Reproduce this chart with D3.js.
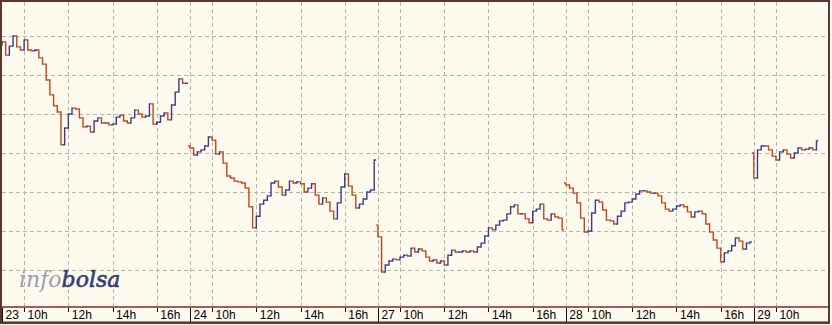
<!DOCTYPE html>
<html>
<head>
<meta charset="utf-8">
<script src="https://cdn.jsdelivr.net/npm/d3@7"></script>
<style>
  body { margin: 0; background: #ffffff; }
  svg { display: block; }
</style>
</head>
<body>
<svg id="chart"></svg>
<script>
// session days shown on the axis
const days = ['23', '24', '27', '28', '29'];
const hourTicks = [10, 12, 14, 16];
const gridValues = [10.0, 10.1, 10.2, 10.3, 10.4, 10.5, 10.6];

// first open of every session
const dayOpen = [10.577, 10.318, 10.115, 10.223, 10.300];

// 10 minute closes, from 9:00
const close23 = [10.585, 10.551, 10.574, 10.600, 10.572, 10.564, 10.590, 10.564, 10.562, 10.564, 10.544, 10.528, 10.487, 10.449, 10.421, 10.405, 10.321, 10.364, 10.400, 10.415, 10.413, 10.390, 10.367, 10.369, 10.354, 10.382, 10.390, 10.377, 10.377, 10.372, 10.374, 10.392, 10.397, 10.382, 10.377, 10.390, 10.410, 10.400, 10.392, 10.395, 10.426, 10.374, 10.379, 10.395, 10.403, 10.385, 10.423, 10.456, 10.490, 10.479, 10.479];
const close24 = [10.313, 10.295, 10.303, 10.308, 10.318, 10.341, 10.333, 10.297, 10.303, 10.274, 10.241, 10.236, 10.228, 10.226, 10.223, 10.210, 10.162, 10.108, 10.138, 10.169, 10.179, 10.190, 10.223, 10.228, 10.213, 10.192, 10.205, 10.228, 10.223, 10.226, 10.221, 10.200, 10.210, 10.221, 10.192, 10.169, 10.185, 10.174, 10.151, 10.131, 10.172, 10.213, 10.246, 10.215, 10.192, 10.159, 10.169, 10.182, 10.200, 10.205, 10.282];
const close27 = [10.085, 9.995, 10.013, 10.023, 10.028, 10.026, 10.033, 10.038, 10.036, 10.056, 10.046, 10.054, 10.049, 10.033, 10.023, 10.026, 10.018, 10.023, 10.013, 10.038, 10.051, 10.046, 10.046, 10.049, 10.046, 10.049, 10.046, 10.059, 10.069, 10.087, 10.108, 10.103, 10.115, 10.126, 10.128, 10.144, 10.162, 10.167, 10.144, 10.144, 10.131, 10.121, 10.151, 10.156, 10.169, 10.131, 10.128, 10.144, 10.136, 10.133, 10.103];
const close28 = [10.218, 10.210, 10.197, 10.172, 10.133, 10.097, 10.100, 10.146, 10.179, 10.174, 10.154, 10.128, 10.126, 10.118, 10.138, 10.151, 10.172, 10.174, 10.182, 10.195, 10.203, 10.203, 10.200, 10.197, 10.197, 10.190, 10.172, 10.156, 10.151, 10.156, 10.164, 10.167, 10.162, 10.149, 10.136, 10.149, 10.151, 10.144, 10.118, 10.097, 10.077, 10.056, 10.021, 10.044, 10.049, 10.062, 10.082, 10.074, 10.054, 10.069, 10.072];
const close29 = [10.236, 10.308, 10.318, 10.318, 10.308, 10.292, 10.282, 10.303, 10.308, 10.297, 10.287, 10.300, 10.313, 10.308, 10.310, 10.313, 10.308, 10.331];

const closes = [close23, close24, close27, close28, close29];

class IntradayChart {

    constructor(_config) {
        this.config = {
            parentElement: _config.parentElement,
            width: 832,
            height: 325,
            plot: { left: 2, right: 829, top: 2, bottom: 306 },
            sessionHours: 8.5,
            barHours: 1 / 6,
            upColor: '#3b3b88',
            downColor: '#c0461e'
        };
        this.initVis();
    }

    initVis() {
        let vis = this;
        const c = vis.config;

        vis.svg = d3.select(c.parentElement)
            .attr('width', c.width)
            .attr('height', c.height);

        // hours since first open, sessions glued together
        vis.xScale = d3.scaleLinear()
            .domain([0, 37.4])
            .range([c.plot.left, c.plot.right]);

        vis.yScale = d3.scaleLinear()
            .domain([10.0, 10.6])
            .range([270, 36]);

        vis.svg.append('rect')
            .attr('width', c.width)
            .attr('height', c.height)
            .attr('fill', '#fffaee');

        // build bars: open = previous close inside a session
        vis.bars = [];
        closes.forEach((arr, d) => {
            arr.forEach((cl, i) => {
                const op = i === 0 ? dayOpen[d] : arr[i - 1];
                vis.bars.push({ t: d * c.sessionHours + i * c.barHours, open: op, close: cl });
            });
        });

        vis.hourTickValues = [];
        days.forEach((day, d) => {
            hourTicks.forEach(h => {
                const t = d * c.sessionHours + (h - 9);
                if (vis.xScale(t) + 24 <= c.plot.right) vis.hourTickValues.push(t);
            });
        });
        vis.dayTickValues = days.map((day, d) => d * c.sessionHours);

        vis.renderVis();
    }

    renderVis() {
        let vis = this;
        const c = vis.config;
        const x = vis.xScale, y = vis.yScale;

        // grid
        const grid = vis.svg.append('g')
            .attr('stroke', '#b9b4aa')
            .attr('stroke-dasharray', '4,3')
            .attr('shape-rendering', 'crispEdges');

        grid.selectAll('.hgrid')
            .data(gridValues)
            .join('line')
            .attr('x1', c.plot.left)
            .attr('x2', c.plot.right)
            .attr('y1', d => Math.round(y(d)) + 0.5)
            .attr('y2', d => Math.round(y(d)) + 0.5);

        grid.selectAll('.vgrid')
            .data(vis.hourTickValues.concat(vis.dayTickValues.slice(1)))
            .join('line')
            .attr('x1', d => Math.round(x(d)) + 0.5)
            .attr('x2', d => Math.round(x(d)) + 0.5)
            .attr('y1', c.plot.top)
            .attr('y2', c.plot.bottom);

        // logo
        const logo = vis.svg.append('text')
            .attr('x', 19)
            .attr('y', 287)
            .attr('font-family', '"DejaVu Serif", serif')
            .attr('font-style', 'italic')
            .attr('font-size', '22px');
        logo.append('tspan').attr('fill', '#9a9db6').text('info');
        logo.append('tspan')
            .attr('fill', '#2f3d76')
            .attr('stroke', '#2f3d76')
            .attr('stroke-width', 0.6)
            .text('bolsa');

        // price bars
        const half = c.barHours / 2;
        vis.svg.append('g')
            .attr('fill', 'none')
            .attr('stroke-width', 1.4)
            .selectAll('path')
            .data(vis.bars)
            .join('path')
            .attr('stroke', d => d.close >= d.open ? c.upColor : c.downColor)
            .attr('d', d => `M${x(d.t - half)},${y(d.open)}H${x(d.t)}V${y(d.close)}H${x(d.t + half)}`);

        // time axis band
        vis.svg.append('line')
            .attr('x1', c.plot.left).attr('x2', c.plot.right)
            .attr('y1', 307).attr('y2', 307)
            .attr('stroke', '#a35c58')
            .attr('stroke-width', 2);

        vis.svg.append('line')
            .attr('x1', c.plot.left).attr('x2', c.plot.right)
            .attr('y1', 322).attr('y2', 322)
            .attr('stroke', '#a35c58')
            .attr('stroke-width', 1.5);

        const hourAxis = d3.axisBottom(x)
            .tickValues(vis.hourTickValues)
            .tickSize(4)
            .tickFormat(t => `${Math.round((t % c.sessionHours) + 9)}h`);

        const dayAxis = d3.axisBottom(x)
            .tickValues(vis.dayTickValues)
            .tickSize(14)
            .tickFormat((t, i) => days[i]);

        [hourAxis, dayAxis].forEach(ax => {
            const g = vis.svg.append('g')
                .attr('transform', 'translate(0,308)')
                .call(ax);
            g.select('.domain').remove();
            g.selectAll('.tick line')
                .attr('stroke', '#111')
                .attr('shape-rendering', 'crispEdges');
            g.selectAll('.tick text')
                .attr('fill', '#000')
                .attr('text-anchor', 'start')
                .attr('x', 3)
                .attr('y', 11)
                .attr('dy', null)
                .attr('font-family', '"Liberation Sans", Arial, sans-serif')
                .attr('font-size', '12px');
        });

        // outer frame
        vis.svg.append('rect')
            .attr('x', 1).attr('y', 1)
            .attr('width', 828).attr('height', 322)
            .attr('fill', 'none')
            .attr('stroke', '#5e3630')
            .attr('stroke-width', 2);
    }
}

new IntradayChart({ parentElement: '#chart' });
</script>
</body>
</html>
